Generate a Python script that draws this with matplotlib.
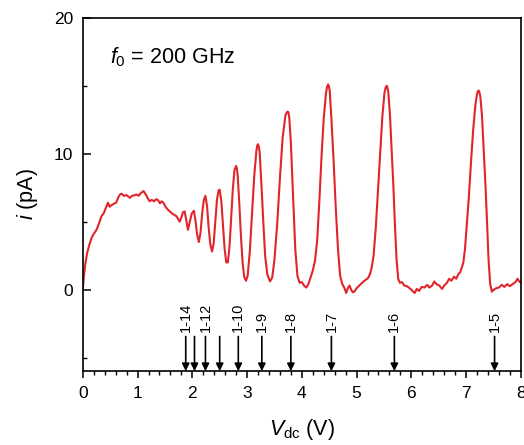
import numpy as np
import matplotlib
matplotlib.use("Agg")
import matplotlib.pyplot as plt
from matplotlib.ticker import MultipleLocator

plt.rcParams['font.family'] = ['Liberation Sans', 'DejaVu Sans']
plt.rcParams['mathtext.fontset'] = 'custom'
plt.rcParams['mathtext.rm'] = 'Liberation Sans'
plt.rcParams['mathtext.it'] = 'Liberation Sans:italic'

# bias voltage (V) and current (pA)
vdc = [0.00, 0.02, 0.05, 0.08, 0.12, 0.16, 0.20, 0.25, 0.30, 0.34, 0.38, 0.42, 0.46, 0.49,
       0.52, 0.56, 0.61, 0.65, 0.68, 0.71, 0.75, 0.80, 0.86, 0.90, 0.95, 0.98, 1.02, 1.06,
       1.11, 1.15, 1.19, 1.22, 1.26, 1.30, 1.34, 1.37, 1.41, 1.44, 1.47, 1.51, 1.55, 1.59,
       1.63, 1.67, 1.71, 1.74, 1.77, 1.80, 1.83, 1.86, 1.89, 1.92, 1.95, 1.99, 2.03, 2.06,
       2.09, 2.12, 2.15, 2.18, 2.21, 2.24, 2.27, 2.30, 2.33, 2.36, 2.39, 2.42, 2.45, 2.48,
       2.50, 2.53, 2.56, 2.59, 2.62, 2.65, 2.68, 2.71, 2.74, 2.77, 2.80, 2.815, 2.83, 2.86,
       2.89, 2.92, 2.95, 2.98, 3.01, 3.05, 3.09, 3.13, 3.17, 3.185, 3.20, 3.215, 3.23, 3.26,
       3.30, 3.33, 3.37, 3.42, 3.46, 3.50, 3.55, 3.60, 3.65, 3.70, 3.72, 3.74, 3.755, 3.77,
       3.80, 3.84, 3.88, 3.92, 3.96, 4.00, 4.04, 4.08, 4.12, 4.16, 4.20, 4.24, 4.28, 4.32,
       4.36, 4.40, 4.44, 4.46, 4.48, 4.495, 4.51, 4.54, 4.58, 4.62, 4.66, 4.70, 4.74, 4.78,
       4.81, 4.84, 4.87, 4.90, 4.93, 4.96, 5.00, 5.05, 5.10, 5.16, 5.21, 5.25, 5.28, 5.31,
       5.35, 5.39, 5.43, 5.47, 5.51, 5.53, 5.55, 5.565, 5.58, 5.61, 5.64, 5.67, 5.70, 5.73,
       5.76, 5.79, 5.83, 5.87, 5.92, 5.97, 6.02, 6.06, 6.10, 6.14, 6.19, 6.24, 6.29, 6.33,
       6.38, 6.42, 6.46, 6.51, 6.56, 6.60, 6.65, 6.69, 6.73, 6.78, 6.82, 6.86, 6.89, 6.92,
       6.95, 6.98, 7.01, 7.05, 7.09, 7.13, 7.17, 7.20, 7.215, 7.23, 7.245, 7.26, 7.29, 7.32,
       7.35, 7.38, 7.41, 7.44, 7.47, 7.51, 7.55, 7.60, 7.65, 7.70, 7.75, 7.80, 7.85, 7.90,
       7.94, 7.97, 8.00]
cur = [0.0, 1.0, 2.0, 2.7, 3.3, 3.8, 4.1, 4.4, 4.9, 5.4, 5.6, 6.0, 6.4, 6.1,
       6.2, 6.3, 6.4, 6.8, 7.0, 7.05, 6.9, 6.95, 6.75, 6.9, 6.95, 7.0, 6.9, 7.1,
       7.25, 7.0, 6.7, 6.5, 6.6, 6.5, 6.65, 6.6, 6.35, 6.5, 6.4, 6.1, 5.9, 5.75,
       5.6, 5.5, 5.4, 5.2, 5.0, 5.3, 5.7, 5.75, 5.1, 4.4, 4.9, 5.6, 5.8, 5.0,
       4.0, 3.5, 4.2, 5.6, 6.6, 6.9, 6.1, 4.5, 3.3, 2.8, 3.4, 5.0, 6.6, 7.3,
       7.35, 6.5, 4.8, 3.0, 2.0, 2.0, 3.2, 5.3, 7.4, 8.8, 9.1, 8.9, 8.3, 6.2,
       3.8, 1.9, 0.9, 0.65, 1.0, 2.8, 5.5, 8.3, 10.2, 10.6, 10.7, 10.5, 10.1, 7.9,
       4.7, 2.5, 1.1, 0.6, 0.9, 2.2, 4.8, 8.2, 11.2, 12.8, 13.0, 13.1, 13.05, 12.7,
       10.8, 6.8, 3.0, 1.0, 0.5, 0.55, 0.3, 0.15, 0.4, 0.9, 1.4, 2.1, 3.6, 6.5,
       9.8, 12.6, 14.4, 14.9, 15.1, 14.95, 14.6, 12.6, 9.5, 6.0, 3.0, 1.0, 0.4, 0.1,
       -0.25, 0.1, 0.3, 0.0, -0.2, -0.15, 0.1, 0.3, 0.5, 0.7, 0.85, 1.2, 1.7, 2.5,
       4.5, 7.2, 10.0, 12.7, 14.5, 14.85, 15.0, 14.85, 14.5, 12.8, 10.3, 7.8, 4.8, 2.2,
       0.8, 0.5, 0.55, 0.3, 0.25, 0.1, -0.1, -0.25, 0.05, -0.1, 0.2, 0.15, 0.35, 0.15,
       0.3, 0.6, 0.4, 0.3, 0.05, 0.3, 0.5, 0.8, 0.65, 0.95, 0.8, 1.15, 1.25, 1.6,
       2.0, 3.0, 4.6, 6.8, 9.4, 11.8, 13.6, 14.4, 14.6, 14.65, 14.5, 14.2, 12.8, 10.4,
       8.0, 5.2, 2.2, 0.4, -0.15, 0.0, 0.1, 0.15, 0.35, 0.2, 0.4, 0.25, 0.4, 0.55,
       0.8, 0.6, 0.5]

# arrow marks (resonance positions) and their labels
mark_v = [1.88, 2.04, 2.24, 2.50, 2.84, 3.27, 3.80, 4.54, 5.69, 7.52]
mark_lab = ['1-14', '', '1-12', '', '1-10', '1-9', '1-8', '1-7', '1-6', '1-5']

fig = plt.figure(figsize=(5.24, 4.45), dpi=100)
ax = fig.add_axes([0.158, 0.166, 0.836, 0.794])

ax.plot(vdc, cur, color='#E0252B', lw=1.5, solid_joinstyle='round')

for v, lab in zip(mark_v, mark_lab):
    ax.annotate('', xy=(v, -6), xytext=(v, -3.45),
                arrowprops=dict(arrowstyle='-|>', color='black', lw=1.2,
                                mutation_scale=11, shrinkA=0, shrinkB=0))
    if lab:
        ax.text(v, -3.15, lab, rotation=90, ha='center', va='bottom', fontsize=10.5)

ax.text(0.062, 0.872, r'$f_0$ = 200 GHz', transform=ax.transAxes,
        fontsize=15.5, va='baseline', ha='left')

ax.set_xlim(0, 8)
ax.set_ylim(-6, 20)
ax.xaxis.set_major_locator(MultipleLocator(1))
ax.xaxis.set_minor_locator(MultipleLocator(0.2))
ax.yaxis.set_major_locator(MultipleLocator(10))
ax.yaxis.set_minor_locator(MultipleLocator(5))

ax.tick_params(axis='x', which='major', direction='out', length=5, width=1.1,
               labelsize=12.5, pad=6)
ax.tick_params(axis='x', which='minor', direction='out', length=3, width=1.0)
ax.tick_params(axis='y', which='major', direction='in', length=6, width=1.1,
               labelsize=12.5, pad=7)
ax.tick_params(axis='y', which='minor', direction='in', length=3, width=1.0)

for s in ax.spines.values():
    s.set_linewidth(1.2)

ax.set_xlabel(r'$V_{\rm dc}$ (V)', fontsize=15.5, labelpad=11)
ax.set_ylabel(r'$i$ (pA)', fontsize=15.5, labelpad=10)

fig.savefig('out.png', dpi=100)
